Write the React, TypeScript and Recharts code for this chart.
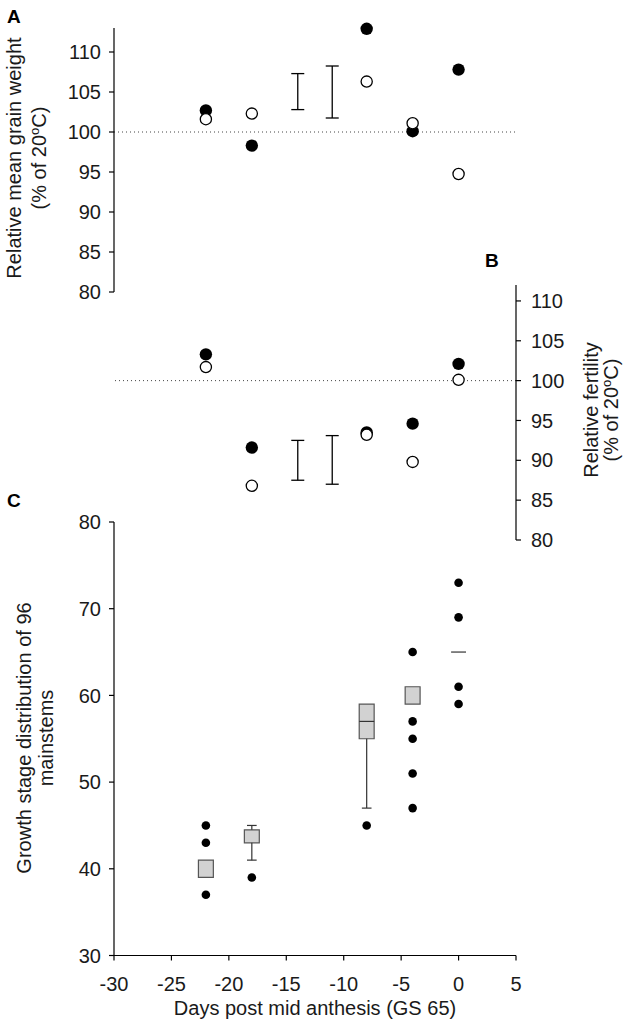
import {
  ErrorBar,
  ReferenceArea,
  ReferenceLine,
  Scatter,
  ScatterChart,
  XAxis,
  YAxis,
} from "recharts";

// sampling days (days post mid anthesis)
const days = [-22, -18, -8, -4, 0];

// A: relative mean grain weight (% of 20°C)
const grainFilled = [102.7, 98.3, 112.9, 100.1, 107.8];
const grainOpen = [101.6, 102.3, 106.3, 101.1, 94.75];

// B: relative fertility (% of 20°C)
const fertFilled = [103.3, 91.6, 93.5, 94.6, 102.1];
const fertOpen = [101.7, 86.8, 93.2, 89.8, 100.1];

// LSD bars
const lsdDays = [-14, -11];
const lsdGrainLow = [102.8, 101.75];
const lsdGrainHigh = [107.3, 108.25];
const lsdFertLow = [87.5, 87.0];
const lsdFertHigh = [92.5, 93.1];

// C: growth stage distribution of 96 mainstems
const boxDays = [-22, -18, -8, -4, 0];
const boxQ1 = [39, 43, 55, 59, null];
const boxQ3 = [41, 44.5, 59, 61, null];
const boxMedian = [null, null, 57, null, 65];
const whiskerLow = [null, 41, 47, null, null];
const whiskerHigh = [null, 45, null, null, null];
const stemDays = [-22, -22, -22, -18, -8, -4, -4, -4, -4, -4, 0, 0, 0, 0];
const stemStage = [45, 43, 37, 39, 45, 65, 57, 55, 51, 47, 73, 69, 61, 59];

const xTicks = [-30, -25, -20, -15, -10, -5, 0, 5];
const pctTicks = [80, 85, 90, 95, 100, 105, 110];
const stageTicks = [30, 40, 50, 60, 70, 80];

const FONT = '"Liberation Sans", Arial, sans-serif';
const TEXT = "#1a1a1a";
const BOX_HALF = 0.65;
const CAP_HALF = 0.42;

const toPoints = (xs: number[], ys: number[]) => xs.map((x, i) => ({ x, y: ys[i] }));
const toLsd = (lows: number[], highs: number[]) =>
  lsdDays.map((x, i) => ({ x, y: (lows[i] + highs[i]) / 2, err: (highs[i] - lows[i]) / 2 }));

const axisStyle = {
  axisLine: { stroke: "#000", strokeWidth: 1.2 },
  tickLine: { stroke: "#000", strokeWidth: 1.2 },
  tickSize: 5,
  tick: { fill: TEXT, fontSize: 20, fontFamily: FONT },
};

const bigFilled = (p: any) => <circle cx={p.cx} cy={p.cy} r={6.2} fill="#000" />;
const bigOpen = (p: any) => (
  <circle cx={p.cx} cy={p.cy} r={5.6} fill="#fff" stroke="#000" strokeWidth={1.3} />
);
const smallFilled = (p: any) => <circle cx={p.cx} cy={p.cy} r={4.3} fill="#000" />;
const hidden = () => <g />;

const lsdBar = (
  <ErrorBar dataKey="err" direction="y" width={6.5} stroke="#000" strokeWidth={1.3} />
);

function PanelA() {
  return (
    <ScatterChart width={637} height={320} margin={{ top: 28, right: 121, bottom: 28, left: 54 }}>
      <XAxis type="number" dataKey="x" domain={[-30, 5]} hide />
      <YAxis
        type="number"
        dataKey="y"
        domain={[80, 113]}
        ticks={pctTicks}
        interval={0}
        width={60}
        tickMargin={8}
        {...axisStyle}
      />
      <ReferenceLine y={100} stroke="#444" strokeDasharray="1 3" />
      <Scatter data={toLsd(lsdGrainLow, lsdGrainHigh)} shape={hidden} isAnimationActive={false}>
        {lsdBar}
      </Scatter>
      <Scatter data={toPoints(days, grainFilled)} shape={bigFilled} isAnimationActive={false} />
      <Scatter data={toPoints(days, grainOpen)} shape={bigOpen} isAnimationActive={false} />
    </ScatterChart>
  );
}

function PanelB() {
  return (
    <ScatterChart width={637} height={310} margin={{ top: 35, right: 61, bottom: 20, left: 114 }}>
      <XAxis type="number" dataKey="x" domain={[-30, 5]} hide />
      <YAxis
        type="number"
        dataKey="y"
        orientation="right"
        domain={[80, 112]}
        ticks={pctTicks}
        interval={0}
        width={60}
        tickMargin={10}
        {...axisStyle}
      />
      <ReferenceLine y={100} stroke="#444" strokeDasharray="1 3" />
      <Scatter data={toLsd(lsdFertLow, lsdFertHigh)} shape={hidden} isAnimationActive={false}>
        {lsdBar}
      </Scatter>
      <Scatter data={toPoints(days, fertFilled)} shape={bigFilled} isAnimationActive={false} />
      <Scatter data={toPoints(days, fertOpen)} shape={bigOpen} isAnimationActive={false} />
    </ScatterChart>
  );
}

function PanelC() {
  return (
    <ScatterChart width={637} height={526} margin={{ top: 22, right: 121, bottom: 0, left: 54 }}>
      <XAxis
        type="number"
        dataKey="x"
        domain={[-30, 5]}
        ticks={xTicks}
        interval={0}
        height={70.5}
        tickMargin={16}
        {...axisStyle}
      />
      <YAxis
        type="number"
        dataKey="y"
        domain={[30, 80]}
        ticks={stageTicks}
        interval={0}
        width={60}
        tickMargin={8}
        {...axisStyle}
      />
      {boxDays.map((x, i) => {
        const q1 = boxQ1[i];
        const q3 = boxQ3[i];
        const lo = whiskerLow[i];
        const hi = whiskerHigh[i];
        const med = boxMedian[i];
        return (
          <g key={x}>
            {lo != null && q1 != null && (
              <ReferenceLine segment={[{ x, y: lo }, { x, y: q1 }]} stroke="#333" strokeWidth={1.2} />
            )}
            {lo != null && (
              <ReferenceLine
                segment={[{ x: x - CAP_HALF, y: lo }, { x: x + CAP_HALF, y: lo }]}
                stroke="#333"
                strokeWidth={1.2}
              />
            )}
            {hi != null && q3 != null && (
              <ReferenceLine segment={[{ x, y: q3 }, { x, y: hi }]} stroke="#333" strokeWidth={1.2} />
            )}
            {hi != null && (
              <ReferenceLine
                segment={[{ x: x - CAP_HALF, y: hi }, { x: x + CAP_HALF, y: hi }]}
                stroke="#333"
                strokeWidth={1.2}
              />
            )}
            {q1 != null && q3 != null && (
              <ReferenceArea
                x1={x - BOX_HALF}
                x2={x + BOX_HALF}
                y1={q1}
                y2={q3}
                fill="#d2d2d2"
                fillOpacity={1}
                stroke="#555"
                strokeWidth={1.2}
              />
            )}
            {med != null && (
              <ReferenceLine
                segment={[{ x: x - BOX_HALF, y: med }, { x: x + BOX_HALF, y: med }]}
                stroke="#333"
                strokeWidth={1.2}
              />
            )}
          </g>
        );
      })}
      <Scatter data={toPoints(stemDays, stemStage)} shape={smallFilled} isAnimationActive={false} />
    </ScatterChart>
  );
}

function Titles() {
  const sup = (
    <>
      <tspan>(% of 20</tspan>
      <tspan dy={-7} fontSize={13}>o</tspan>
      <tspan dy={7}>C)</tspan>
    </>
  );
  return (
    <svg
      width={637}
      height={1026}
      style={{ position: "absolute", left: 0, top: 0, pointerEvents: "none" }}
      fontFamily={FONT}
      fill={TEXT}
    >
      <text x={7} y={23} fontSize={19} fontWeight="bold" fill="#000">A</text>
      <text x={485} y={267} fontSize={19} fontWeight="bold" fill="#000">B</text>
      <text x={7} y={507} fontSize={19} fontWeight="bold" fill="#000">C</text>

      <text transform="translate(21,158) rotate(-90)" textAnchor="middle" fontSize={20}>
        Relative mean grain weight
      </text>
      <text transform="translate(46,158) rotate(-90)" textAnchor="middle" fontSize={20}>
        {sup}
      </text>

      <text transform="translate(598,410) rotate(-90)" textAnchor="middle" fontSize={20}>
        Relative fertility
      </text>
      <text transform="translate(618,410) rotate(-90)" textAnchor="middle" fontSize={20}>
        {sup}
      </text>

      <text transform="translate(31,738) rotate(-90)" textAnchor="middle" fontSize={20}>
        Growth stage distribution of 96
      </text>
      <text transform="translate(53,738) rotate(-90)" textAnchor="middle" fontSize={20}>
        mainstems
      </text>

      <text x={315} y={1015} textAnchor="middle" fontSize={20}>
        Days post mid anthesis (GS 65)
      </text>
    </svg>
  );
}

export default function App() {
  return (
    <div
      style={{
        position: "absolute",
        left: 0,
        top: 0,
        width: 637,
        height: 1026,
        background: "#fff",
        fontFamily: FONT,
      }}
    >
      <div style={{ position: "absolute", left: 0, top: 0 }}>
        <PanelA />
      </div>
      <div style={{ position: "absolute", left: 0, top: 250 }}>
        <PanelB />
      </div>
      <div style={{ position: "absolute", left: 0, top: 500 }}>
        <PanelC />
      </div>
      <Titles />
    </div>
  );
}
